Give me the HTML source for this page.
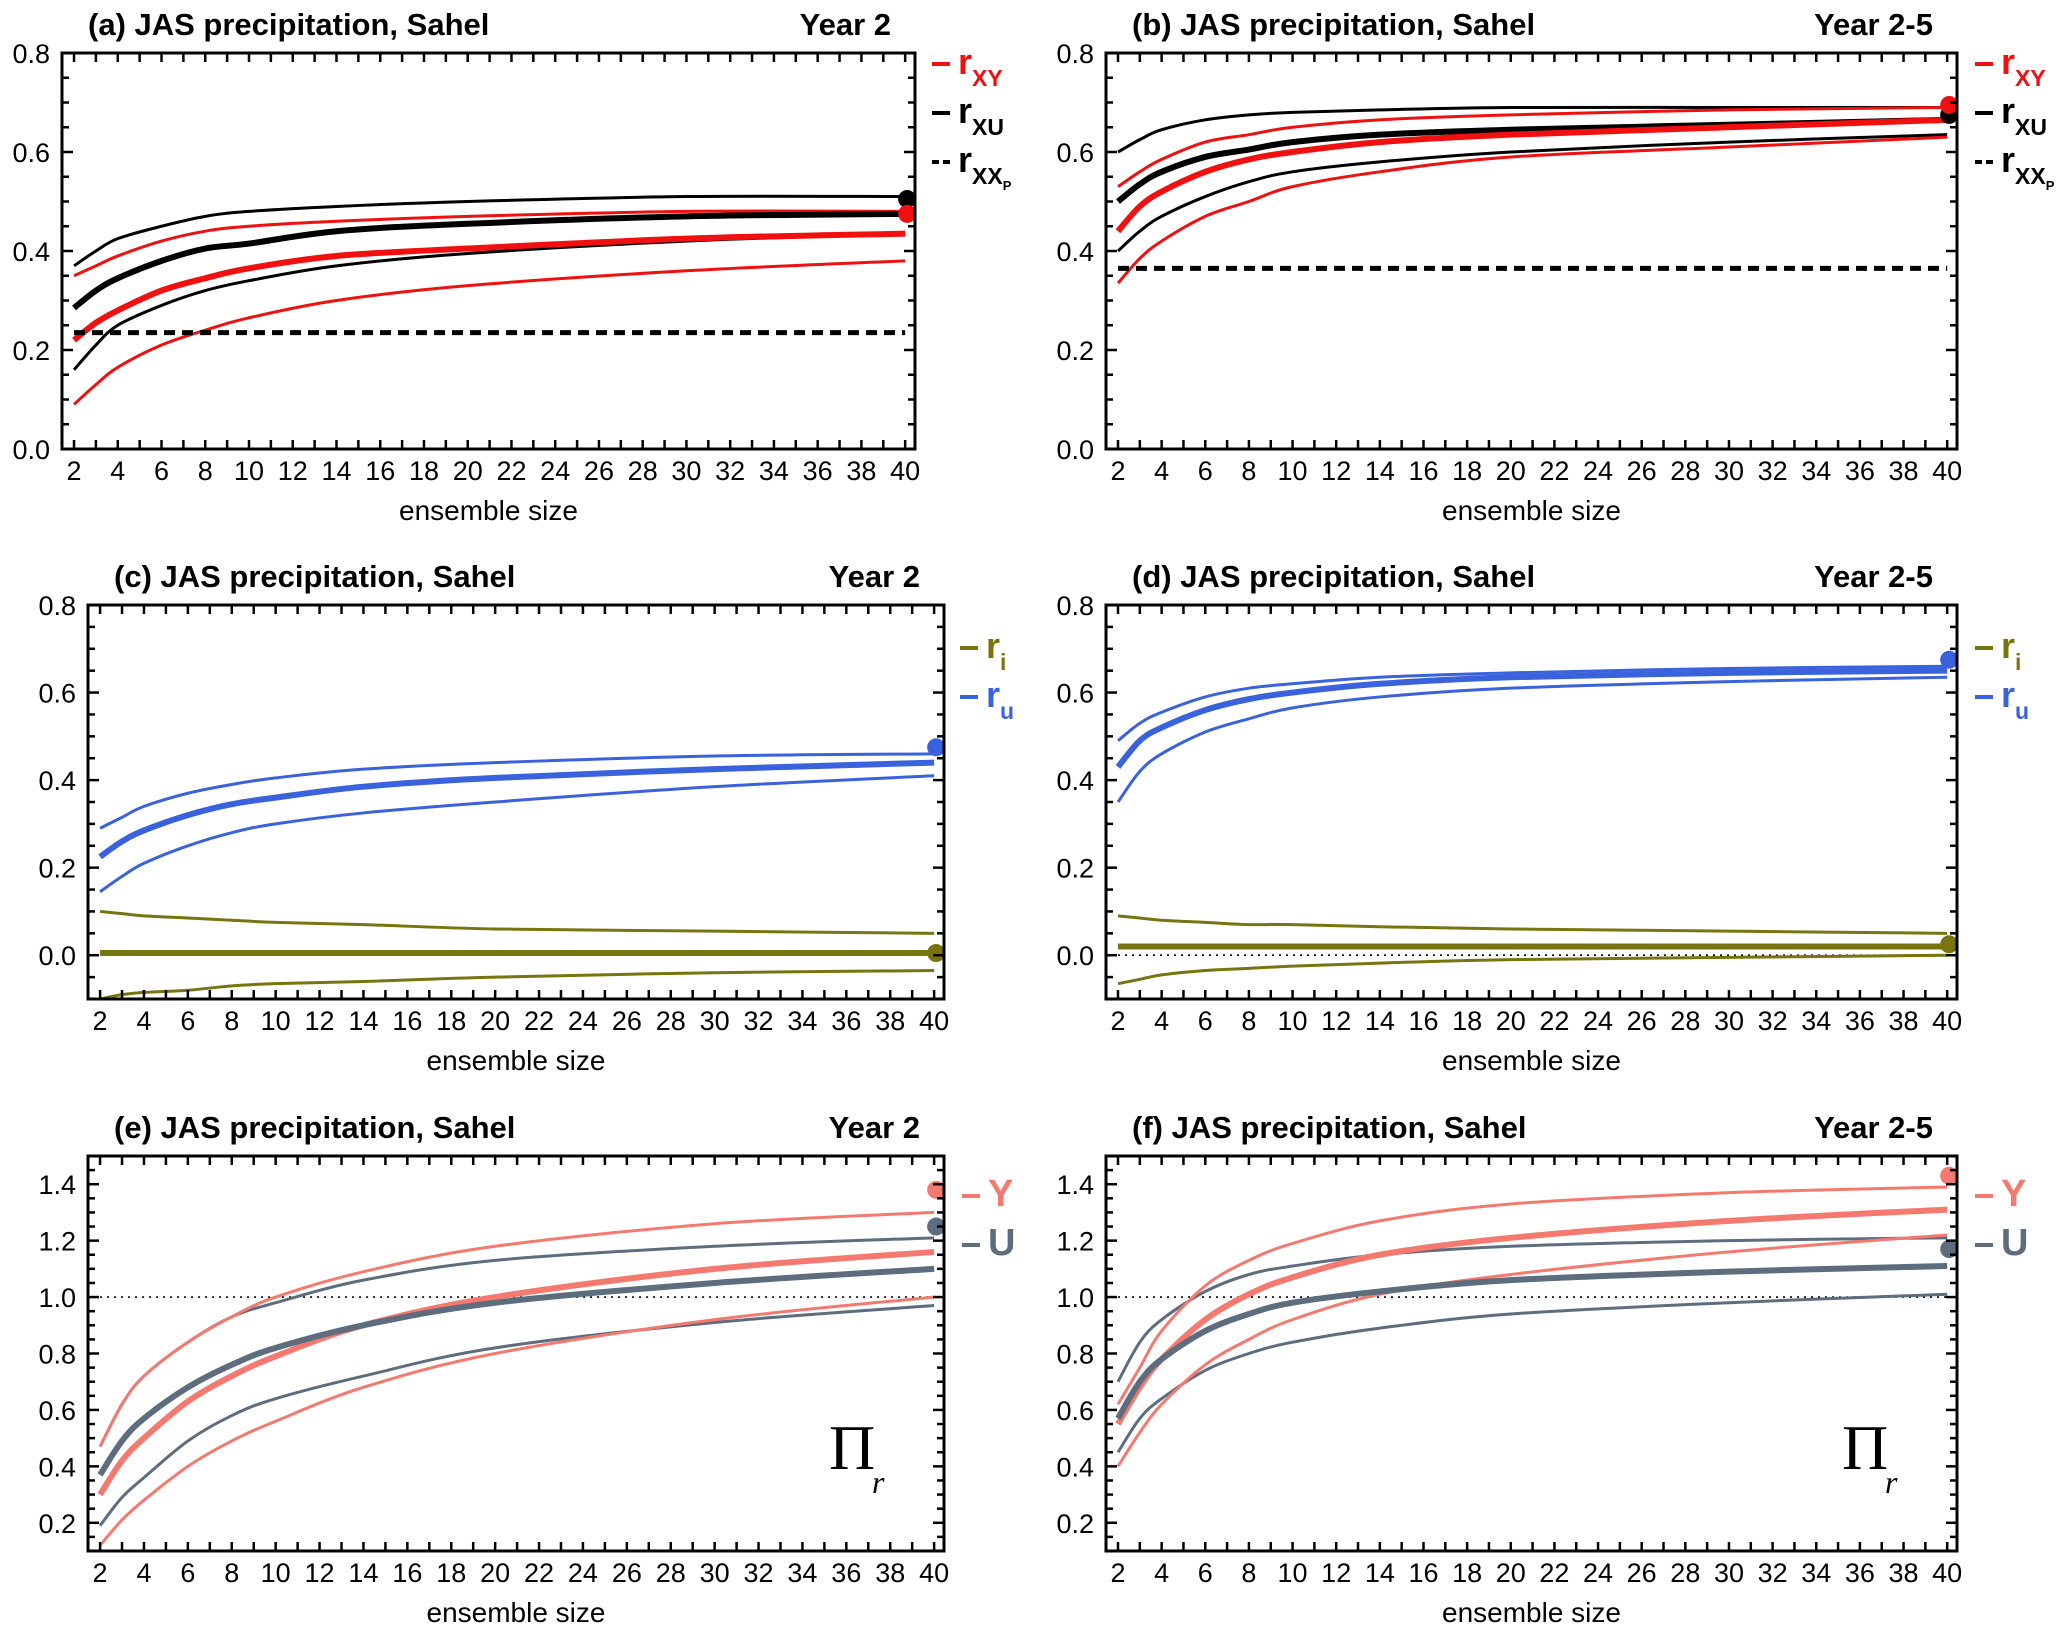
<!DOCTYPE html>
<html><head><meta charset="utf-8"><style>
html,body{margin:0;padding:0;background:#fff;}
svg{display:block;font-family:"Liberation Sans",sans-serif;}
</style></head><body>
<svg id="fig" width="2067" height="1626" viewBox="0 0 2067 1626" xmlns="http://www.w3.org/2000/svg"></svg>
<script>
const ensembleSizes = [2,3,4,6,8,10,14,20,30,40];
// panel a
const aXYupper = [.35,.37,.39,.42,.44,.45,.46,.47,.48,.48];
const aXYmean  = [.22,.255,.28,.32,.345,.365,.39,.405,.425,.435];
const aXYlower = [.09,.13,.165,.21,.24,.265,.30,.33,.36,.38];
const aXUupper = [.37,.40,.425,.45,.47,.48,.49,.50,.51,.51];
const aXUmean  = [.285,.32,.345,.38,.405,.415,.44,.455,.47,.475];
const aXUlower = [.16,.21,.25,.29,.32,.34,.37,.395,.42,.435];
const aXXp = 0.235; const aDotXY = 0.475; const aDotXU = 0.505;
// panel b
const bXYupper = [.53,.56,.585,.62,.635,.65,.665,.675,.685,.69];
const bXYmean  = [.44,.49,.52,.56,.585,.60,.62,.635,.65,.665];
const bXYlower = [.335,.385,.42,.47,.50,.53,.56,.59,.61,.63];
const bXUupper = [.60,.625,.645,.665,.675,.68,.685,.69,.69,.69];
const bXUmean  = [.50,.535,.56,.59,.605,.62,.635,.645,.655,.665];
const bXUlower = [.40,.44,.47,.51,.54,.56,.58,.60,.62,.635];
const bXXp = 0.365; const bDotXY = 0.695; const bDotXU = 0.675;
// panel c
const cUupper = [.29,.315,.34,.37,.39,.405,.425,.44,.455,.46];
const cUmean  = [.225,.26,.285,.32,.345,.36,.385,.405,.425,.44];
const cUlower = [.145,.18,.21,.25,.28,.30,.325,.35,.385,.41];
const cIupper = [.10,.095,.09,.085,.08,.075,.07,.06,.055,.05];
const cImean  = [.005,.005,.005,.005,.005,.005,.005,.005,.005,.005];
const cIlower = [-.10,-.09,-.085,-.08,-.07,-.065,-.06,-.05,-.04,-.035];
const cDotU = 0.475; const cDotI = 0.005;
// panel d
const dUupper = [.49,.53,.555,.59,.61,.62,.635,.645,.655,.66];
const dUmean  = [.43,.49,.52,.56,.585,.60,.62,.635,.645,.65];
const dUlower = [.35,.42,.46,.51,.54,.565,.59,.61,.625,.635];
const dIupper = [.09,.085,.08,.075,.07,.07,.065,.06,.055,.05];
const dImean  = [.02,.02,.02,.02,.02,.02,.02,.02,.02,.02];
const dIlower = [-.065,-.055,-.045,-.035,-.03,-.025,-.018,-.01,-.005,0];
const dDotU = 0.675; const dDotI = 0.025;
// panel e
const eYupper = [.47,.62,.72,.84,.93,1.00,1.09,1.18,1.26,1.30];
const eYmean  = [.30,.42,.50,.63,.72,.79,.90,1.00,1.10,1.16];
const eYlower = [.12,.21,.28,.40,.49,.56,.68,.80,.92,1.00];
const eUupper = [.47,.62,.72,.84,.93,.98,1.06,1.13,1.18,1.21];
const eUmean  = [.37,.49,.57,.68,.76,.82,.90,.98,1.05,1.10];
const eUlower = [.19,.29,.36,.49,.58,.64,.72,.82,.91,.97];
const eDotY = 1.38; const eDotU = 1.25;
// panel f
const fYupper = [.62,.75,.88,1.04,1.13,1.19,1.27,1.33,1.37,1.39];
const fYmean  = [.55,.68,.78,.92,1.01,1.07,1.15,1.21,1.27,1.31];
const fYlower = [.40,.52,.62,.76,.85,.92,1.01,1.08,1.16,1.22];
const fUupper = [.70,.84,.92,1.02,1.08,1.11,1.15,1.18,1.20,1.21];
const fUmean  = [.57,.70,.78,.88,.94,.98,1.02,1.06,1.09,1.11];
const fUlower = [.45,.57,.64,.74,.80,.84,.89,.94,.98,1.01];
const fDotY = 1.43; const fDotU = 1.17;
const xTickLabels = [2,4,6,8,10,12,14,16,18,20,22,24,26,28,30,32,34,36,38,40];
const yTicksTop = [0.0,0.2,0.4,0.6,0.8];
const yTicksMid = [0.0,0.2,0.4,0.6,0.8];
const yTicksBot = [0.2,0.4,0.6,0.8,1.0,1.2,1.4];

const NS = "http://www.w3.org/2000/svg";
const svg = document.getElementById('fig');
function mk(tag, attrs, parent){const e=document.createElementNS(NS,tag);for(const k in attrs)e.setAttribute(k,attrs[k]);(parent||svg).appendChild(e);return e;}

const RED="#f01010", BLK="#000", BLUE="#3a62dc", OLIVE="#787510", SAL="#f47a70", SLATE="#5d6d7e";

function panel(o){
  const g = mk('g',{});
  
  
  const X = v => o.x0 + (v - 1.45) / (40.45 - 1.45) * (o.x1 - o.x0);
  const Y = v => o.y1 - (v - o.ymin) / (o.ymax - o.ymin) * (o.y1 - o.y0);
  const t = mk('text',{x:o.x0+26,y:o.y0-18,'font-size':31,'font-weight':'bold',fill:'#000'},g);
  t.textContent = o.title;
  
  
  const yr = mk('text',{x:o.x1-24,y:o.y0-18,'font-size':31,'font-weight':'bold','text-anchor':'end'},g);
  yr.textContent = o.year;
  
  
  if (o.hline!==undefined){
    const l = mk('line',{x1:X(2),x2:X(40),y1:Y(o.hline),y2:Y(o.hline),stroke:'#000','stroke-width':1.6,'stroke-dasharray':'2 5'},g);
    
    
  }
  o.series.forEach(s=>{
    const pts = ensembleSizes.map((n,i)=>[X(n),Y(s.v[i])]);
    let d = 'M'+pts[0][0]+','+pts[0][1];
    for(let i=0;i<pts.length-1;i++){
      const p0=pts[Math.max(0,i-1)],p1=pts[i],p2=pts[i+1],p3=pts[Math.min(pts.length-1,i+2)];
      const c1=[p1[0]+(p2[0]-p0[0])/6,p1[1]+(p2[1]-p0[1])/6];
      const c2=[p2[0]-(p3[0]-p1[0])/6,p2[1]-(p3[1]-p1[1])/6];
      d+=` C${c1[0]},${c1[1]} ${c2[0]},${c2[1]} ${p2[0]},${p2[1]}`;
    }
    const p = mk('path',{d:d,fill:'none',stroke:s.c,'stroke-width':s.w,'stroke-linejoin':'round'},g);
    
    
  });
  if (o.dashed!==undefined){
    const l = mk('line',{x1:X(2),x2:X(40),y1:Y(o.dashed),y2:Y(o.dashed),stroke:'#000','stroke-width':5,'stroke-dasharray':'11 7'},g);
    
    
  }
  o.dots.forEach(dt=>{
    const c = mk('circle',{cx:X(40)+2,cy:Y(dt.v),r:9,fill:dt.c},g);
    
    
  });
  const fr = mk('rect',{x:o.x0,y:o.y0,width:o.x1-o.x0,height:o.y1-o.y0,fill:'none',stroke:'#000','stroke-width':3},g);
  
  
  for(let n=2;n<=40;n++){
    mk('line',{x1:X(n),x2:X(n),y1:o.y1,y2:o.y1-9,stroke:'#000','stroke-width':2.5},g);
    mk('line',{x1:X(n),x2:X(n),y1:o.y0,y2:o.y0+9,stroke:'#000','stroke-width':2.5},g);
  }
  xTickLabels.forEach(n=>{
    const tl = mk('text',{x:X(n),y:o.y1+31,'font-size':27,'text-anchor':'middle'},g);
    tl.textContent = n;
    
    
  });
  const xl = mk('text',{x:(o.x0+o.x1)/2,y:o.y1+71,'font-size':28,'text-anchor':'middle'},g);
  xl.textContent = 'ensemble size';
  
  
  for(let k=Math.ceil(o.ymin/0.05-1e-6);k*0.05<=o.ymax+1e-6;k++){
    const v=k*0.05; const major = Math.abs(v/0.2-Math.round(v/0.2))<1e-6;
    const L = major?11:7;
    mk('line',{x1:o.x0,x2:o.x0+L,y1:Y(v),y2:Y(v),stroke:'#000','stroke-width':2.5},g);
    mk('line',{x1:o.x1,x2:o.x1-L,y1:Y(v),y2:Y(v),stroke:'#000','stroke-width':2.5},g);
  }
  o.yticks.forEach(v=>{
    const tl = mk('text',{x:o.x0-12,y:Y(v)+10,'font-size':27,'text-anchor':'end'},g);
    tl.textContent = v.toFixed(1);
    
    
  });
  o.legend.forEach((L,i)=>{
    const lg = mk('g',{},g);
    
    
    const ly = o.legY + i*o.legGap;
    mk('line',{x1:o.legX,x2:o.legX+18,y1:ly,y2:ly,stroke:L.c,'stroke-width':4,'stroke-dasharray':L.dash||'none'},lg);
    const tx = mk('text',{x:o.legX+26,y:ly+10,'font-size':L.big?38:36,'font-weight':'bold',fill:L.c},lg);
    tx.textContent = L.t;
    if(L.sub){const ts=mk('tspan',{'font-size':23,dy:12},tx);ts.textContent=L.sub;}
    if(L.sub2){const ts=mk('tspan',{'font-size':13,dy:6},tx);ts.textContent=L.sub2;}
  });
  if(o.pi){
    const pt = mk('text',{x:o.x1-115,y:o.y1-82,'font-size':64,'font-family':'Liberation Serif, serif'},g);
    pt.textContent='Π';
    
    
    const rt = mk('text',{x:o.x1-72,y:o.y1-58,'font-size':32,'font-style':'italic','font-family':'Liberation Serif, serif'},g);
    rt.textContent='r';
  }
}

const legR = [{t:'r',sub:'XY',c:RED},{t:'r',sub:'XU',c:BLK},{t:'r',sub:'XX',sub2:'P',c:BLK,dash:'7 4'}];
const legI = [{t:'r',sub:'i',c:OLIVE},{t:'r',sub:'u',c:BLUE}];
const legP = [{t:'Y',c:SAL,big:true},{t:'U',c:SLATE,big:true}];

panel({name:'panel-a',title:'(a) JAS precipitation, Sahel',year:'Year 2',x0:62,x1:915,y0:53,y1:449,ymin:0,ymax:0.8,yticks:yTicksTop,
  dashed:aXXp,
  series:[{v:aXUupper,c:BLK,w:3,n:'rxu-upper'},{v:aXUlower,c:BLK,w:3,n:'rxu-lower'},{v:aXYupper,c:RED,w:3,n:'rxy-upper'},{v:aXYlower,c:RED,w:3,n:'rxy-lower'},{v:aXUmean,c:BLK,w:6,n:'rxu-mean'},{v:aXYmean,c:RED,w:6,n:'rxy-mean'}],
  dots:[{v:aDotXU,c:BLK,n:'rxu-dot'},{v:aDotXY,c:RED,n:'rxy-dot'}],
  legend:legR,legX:932,legY:64,legGap:49});
panel({name:'panel-b',title:'(b) JAS precipitation, Sahel',year:'Year 2-5',x0:1106,x1:1957,y0:53,y1:449,ymin:0,ymax:0.8,yticks:yTicksTop,
  dashed:bXXp,
  series:[{v:bXUupper,c:BLK,w:3,n:'rxu-upper'},{v:bXUlower,c:BLK,w:3,n:'rxu-lower'},{v:bXYupper,c:RED,w:3,n:'rxy-upper'},{v:bXYlower,c:RED,w:3,n:'rxy-lower'},{v:bXUmean,c:BLK,w:6,n:'rxu-mean'},{v:bXYmean,c:RED,w:6,n:'rxy-mean'}],
  dots:[{v:bDotXU,c:BLK,n:'rxu-dot'},{v:bDotXY,c:RED,n:'rxy-dot'}],
  legend:legR,legX:1975,legY:64,legGap:49});
panel({name:'panel-c',title:'(c) JAS precipitation, Sahel',year:'Year 2',x0:88,x1:944,y0:605,y1:999,ymin:-0.1,ymax:0.8,yticks:yTicksMid,
  series:[{v:cIupper,c:OLIVE,w:3,n:'ri-upper'},{v:cIlower,c:OLIVE,w:3,n:'ri-lower'},{v:cImean,c:OLIVE,w:6,n:'ri-mean'},{v:cUupper,c:BLUE,w:3,n:'ru-upper'},{v:cUlower,c:BLUE,w:3,n:'ru-lower'},{v:cUmean,c:BLUE,w:6,n:'ru-mean'}],
  dots:[{v:cDotU,c:BLUE,n:'ru-dot'},{v:cDotI,c:OLIVE,n:'ri-dot'}],
  legend:legI,legX:960,legY:648,legGap:49});
panel({name:'panel-d',title:'(d) JAS precipitation, Sahel',year:'Year 2-5',x0:1106,x1:1957,y0:605,y1:999,ymin:-0.1,ymax:0.8,yticks:yTicksMid,hline:0,
  series:[{v:dIupper,c:OLIVE,w:3,n:'ri-upper'},{v:dIlower,c:OLIVE,w:3,n:'ri-lower'},{v:dImean,c:OLIVE,w:6,n:'ri-mean'},{v:dUupper,c:BLUE,w:3,n:'ru-upper'},{v:dUlower,c:BLUE,w:3,n:'ru-lower'},{v:dUmean,c:BLUE,w:6,n:'ru-mean'}],
  dots:[{v:dDotU,c:BLUE,n:'ru-dot'},{v:dDotI,c:OLIVE,n:'ri-dot'}],
  legend:legI,legX:1975,legY:648,legGap:49});
panel({name:'panel-e',title:'(e) JAS precipitation, Sahel',year:'Year 2',x0:88,x1:944,y0:1156,y1:1551,ymin:0.1,ymax:1.5,yticks:yTicksBot,hline:1.0,pi:true,
  series:[{v:eUupper,c:SLATE,w:3,n:'u-upper'},{v:eUlower,c:SLATE,w:3,n:'u-lower'},{v:eYupper,c:SAL,w:3,n:'y-upper'},{v:eYlower,c:SAL,w:3,n:'y-lower'},{v:eYmean,c:SAL,w:6,n:'y-mean'},{v:eUmean,c:SLATE,w:6,n:'u-mean'}],
  dots:[{v:eDotY,c:SAL,n:'y-dot'},{v:eDotU,c:SLATE,n:'u-dot'}],
  legend:legP,legX:962,legY:1196,legGap:49});
panel({name:'panel-f',title:'(f) JAS precipitation, Sahel',year:'Year 2-5',x0:1106,x1:1957,y0:1156,y1:1551,ymin:0.1,ymax:1.5,yticks:yTicksBot,hline:1.0,pi:true,
  series:[{v:fUupper,c:SLATE,w:3,n:'u-upper'},{v:fUlower,c:SLATE,w:3,n:'u-lower'},{v:fYupper,c:SAL,w:3,n:'y-upper'},{v:fYlower,c:SAL,w:3,n:'y-lower'},{v:fYmean,c:SAL,w:6,n:'y-mean'},{v:fUmean,c:SLATE,w:6,n:'u-mean'}],
  dots:[{v:fDotY,c:SAL,n:'y-dot'},{v:fDotU,c:SLATE,n:'u-dot'}],
  legend:legP,legX:1975,legY:1196,legGap:49});
</script>
</body></html>
